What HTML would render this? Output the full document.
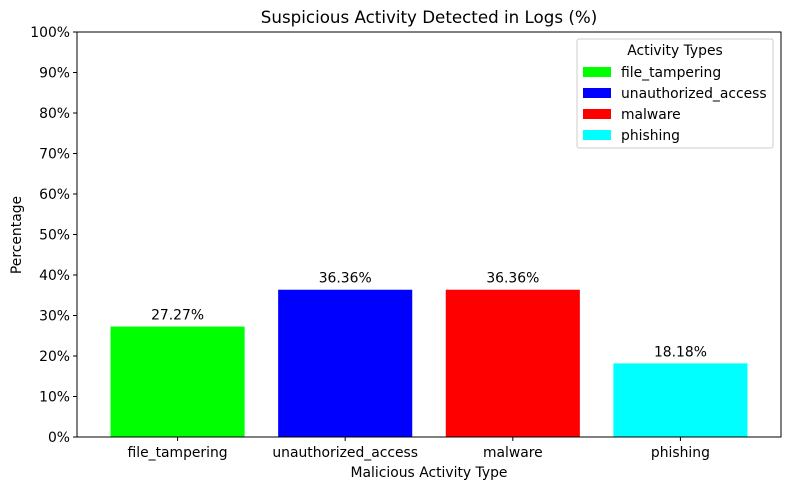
<!DOCTYPE html>
<html><head><meta charset="utf-8"><style>
body{margin:0;background:#fff;}
svg{display:block;font-family:"DejaVu Sans","Liberation Sans",sans-serif;}
</style></head><body>
<svg id="chart" width="790" height="490">
<rect width="790" height="490" fill="#fff"/>
<text x="429" y="23" font-size="16.7" text-anchor="middle">Suspicious Activity Detected in Logs (%)</text>
<text x="429" y="477" font-size="13.9" text-anchor="middle">Malicious Activity Type</text>
<text x="21" y="235" font-size="13.9" text-anchor="middle" transform="rotate(-90 21 235)">Percentage</text>
<g id="yticks"></g><g id="bars"></g><g id="xticks"></g>
<rect x="77" y="32" width="704" height="405" fill="none" stroke="#000" stroke-width="1"/>
<g id="legend">
<rect x="577" y="39" width="196" height="109" fill="#fff" stroke="#ccc" rx="2"/>
<text x="675" y="55" font-size="13.9" text-anchor="middle">Activity Types</text>
</g>
</svg>
<script>
const categories=["file_tampering","unauthorized_access","malware","phishing"];
const values=[27.27,36.36,36.36,18.18];
const colors=["#00ff00","#0000ff","#ff0000","#00ffff"];
const yTicks=[0,10,20,30,40,50,60,70,80,90,100];
const NS="http://www.w3.org/2000/svg";
const L=77,R=781,T=32,B=437;
const FS=13.9;
const y=v=>B-(v/100)*(B-T);
const x=i=>L+(i+0.6)/4.2*(R-L);
const bw=0.8/4.2*(R-L);
function mk(t,a,p){const e=document.createElementNS(NS,t);for(const k in a)e.setAttribute(k,a[k]);p.appendChild(e);return e;}
const yt=document.getElementById('yticks');
yTicks.forEach(v=>{
 const l=mk('line',{x1:L-4,x2:L,y1:y(v),y2:y(v),stroke:'#000'},yt);
 
 
 const t=mk('text',{x:L-7,y:y(v)+5,'font-size':FS,'text-anchor':'end'},yt);
 t.textContent=v+'%';
 
 
});
const bg=document.getElementById('bars'),xt=document.getElementById('xticks'),lg=document.getElementById('legend');
categories.forEach((c,i)=>{
 const r=mk('rect',{x:x(i)-bw/2,y:y(values[i]),width:bw,height:B-y(values[i]),fill:colors[i]},bg);
 
 
 const vl=mk('text',{x:x(i),y:y(values[i])-7,'font-size':FS,'text-anchor':'middle'},bg);
 vl.textContent=values[i].toFixed(2)+'%';
 
 
 const tk=mk('line',{x1:x(i),x2:x(i),y1:B,y2:B+4,stroke:'#000'},xt);
 
 
 const tl=mk('text',{x:x(i),y:B+20,'font-size':FS,'text-anchor':'middle'},xt);
 tl.textContent=c;
 
 
 const ly=72+i*21;
 const p=mk('rect',{x:583,y:ly-5,width:28,height:10,fill:colors[i]},lg);
 
 
 const lt=mk('text',{x:621,y:ly+5,'font-size':FS},lg);
 lt.textContent=c;
 
 
});
</script>
</body></html>
